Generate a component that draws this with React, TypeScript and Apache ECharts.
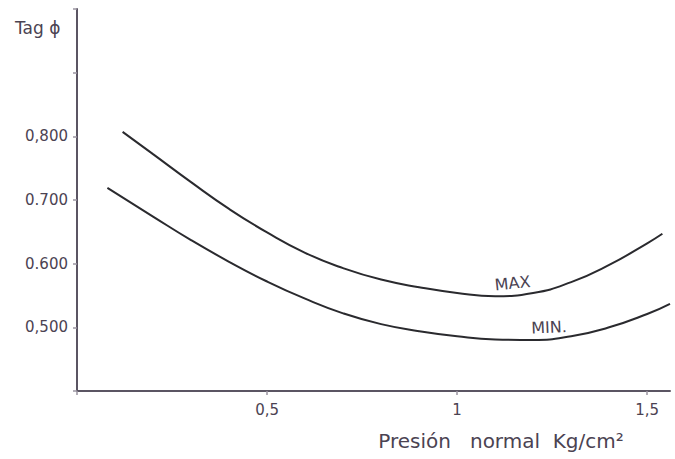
import React, { useEffect, useRef } from "react";
import * as echarts from "echarts";

const maxX = [0.12, 0.2, 0.3, 0.4, 0.5, 0.6, 0.7, 0.8, 0.9, 1.0, 1.1, 1.2, 1.3, 1.4, 1.5, 1.54];
const maxY = [0.807, 0.772, 0.728, 0.686, 0.649, 0.617, 0.593, 0.575, 0.563, 0.554, 0.549, 0.554, 0.571, 0.598, 0.632, 0.647];
const minX = [0.08, 0.2, 0.3, 0.4, 0.5, 0.6, 0.7, 0.8, 0.9, 1.0, 1.1, 1.2, 1.3, 1.4, 1.5, 1.56];
const minY = [0.719, 0.674, 0.637, 0.603, 0.572, 0.545, 0.522, 0.505, 0.494, 0.486, 0.481, 0.48, 0.486, 0.5, 0.521, 0.537];

const xTickValues = [0.5, 1, 1.5];
const xTickLabels = ["0,5", "1", "1,5"];
const yTickValues = [0.5, 0.6, 0.7, 0.8];
const yTickLabels = ["0,500", "0.600", "0.700", "0,800"];

const AXIS = "#5b5563";
const TXT = "#4b4352";
const FONT = "DejaVu Sans";

function lookup(values: number[], labels: string[], v: number) {
  for (let i = 0; i < values.length; i++) {
    if (Math.abs(values[i] - v) < 1e-6) return labels[i];
  }
  return "";
}

export default function App() {
  const ref = useRef<HTMLDivElement>(null);
  useEffect(() => {
    if (!ref.current) return;
    const chart = echarts.init(ref.current, null, { renderer: "svg" });
    chart.setOption({
      animation: false,
      backgroundColor: "#ffffff",
      grid: { left: 77, top: 9, width: 593, height: 382, containLabel: false },
      xAxis: {
        type: "value",
        min: 0,
        max: 1.56,
        interval: 0.5,
        axisLine: { show: true, lineStyle: { color: AXIS, width: 2 } },
        axisTick: { show: true, length: 4, lineStyle: { color: "#9a94a0", width: 1.5 } },
        splitLine: { show: false },
        axisLabel: {
          margin: 11,
          color: TXT,
          fontFamily: FONT,
          fontSize: 15,
          showMaxLabel: false,
          formatter: (v: number) => lookup(xTickValues, xTickLabels, v),
        },
      },
      yAxis: {
        type: "value",
        min: 0.4,
        max: 1.0,
        interval: 0.1,
        axisLine: { show: true, lineStyle: { color: AXIS, width: 2 } },
        axisTick: { show: true, length: 4, lineStyle: { color: "#9a94a0", width: 1.5 } },
        splitLine: { show: false },
        axisLabel: {
          margin: 9,
          color: TXT,
          fontFamily: FONT,
          fontSize: 15,
          formatter: (v: number) => lookup(yTickValues, yTickLabels, v),
        },
      },
      series: [
        {
          name: "MAX",
          type: "line",
          smooth: 0.5,
          showSymbol: false,
          lineStyle: { color: "#2a2a2e", width: 2 },
          data: maxX.map((x, i) => [x, maxY[i]]),
        },
        {
          name: "MIN",
          type: "line",
          smooth: 0.5,
          showSymbol: false,
          lineStyle: { color: "#2a2a2e", width: 2 },
          data: minX.map((x, i) => [x, minY[i]]),
        },
      ],
      graphic: [
        {
          type: "text",
          x: 15,
          y: 19,
          style: { text: "Tag ϕ", fill: TXT, font: `17px "${FONT}"` },
        },
        {
          type: "text",
          x: 494,
          y: 277,
          rotation: 0.1,
          style: { text: "MAX", fill: TXT, font: `16px "${FONT}"` },
        },
        {
          type: "text",
          x: 531,
          y: 320,
          rotation: 0.04,
          style: { text: "MIN.", fill: TXT, font: `16px "${FONT}"` },
        },
        {
          type: "text",
          x: 501,
          y: 441,
          style: {
            text: "Presión   normal  Kg/cm²",
            fill: TXT,
            font: `20px "${FONT}"`,
            align: "center",
            verticalAlign: "middle",
          },
        },
      ],
    });
    return () => chart.dispose();
  }, []);
  return (
    <div
      ref={ref}
      style={{ position: "fixed", left: 0, top: 0, width: 675, height: 459 }}
    />
  );
}
